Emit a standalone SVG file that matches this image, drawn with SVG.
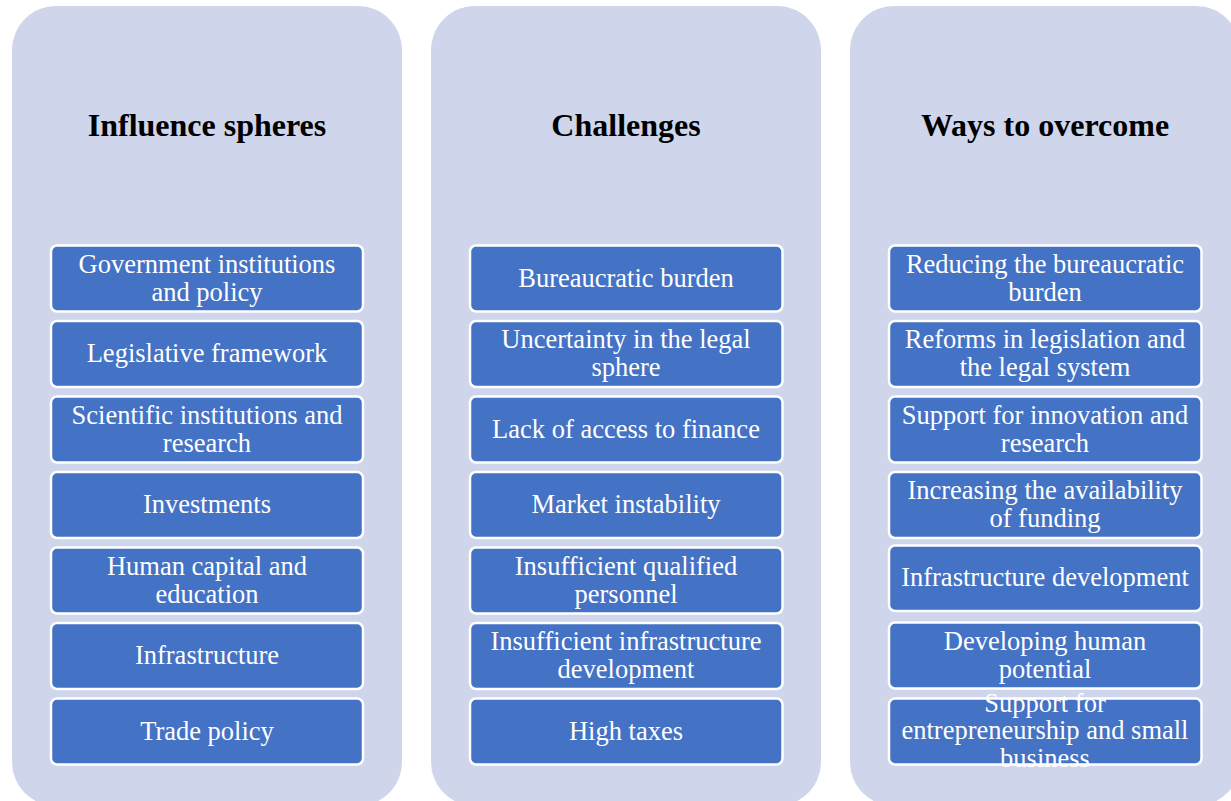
<svg xmlns="http://www.w3.org/2000/svg" width="1231" height="801" viewBox="0 0 1231 801">
<style>
.col{fill:#CFD5EA}
.box{fill:#4472C4;stroke:#FFFFFF;stroke-width:2.5}
.hd{font-family:"Liberation Serif","Times New Roman",serif;font-size:32px;font-weight:bold;fill:#000;text-anchor:middle}
.t{font-family:"Liberation Serif","Times New Roman",serif;font-size:26.5px;fill:#FFFFFF;text-anchor:middle}
</style>
<rect width="1231" height="801" fill="#FFFFFF"/>
<g id="col-influence">
<rect class="col" x="12" y="6" width="390" height="800" rx="44"/>
<text class="hd" x="207" y="136">Influence spheres</text>
</g>
<g id="col-challenges">
<rect class="col" x="431" y="6" width="390" height="800" rx="44"/>
<text class="hd" x="626" y="136">Challenges</text>
</g>
<g id="col-ways">
<rect class="col" x="850" y="6" width="390" height="800" rx="44"/>
<text class="hd" x="1045" y="136">Ways to overcome</text>
</g>
<g id="connectors"></g>
<g id="n-gov"><rect class="box" x="51" y="245.5" width="312" height="66" rx="6"/><text class="t" x="207" y="273">Government institutions</text><text class="t" x="207" y="301">and policy</text></g>
<g id="n-leg"><rect class="box" x="51" y="321" width="312" height="66" rx="6"/><text class="t" x="207" y="362">Legislative framework</text></g>
<g id="n-sci"><rect class="box" x="51" y="396.5" width="312" height="66" rx="6"/><text class="t" x="207" y="424">Scientific institutions and</text><text class="t" x="207" y="452">research</text></g>
<g id="n-inv"><rect class="box" x="51" y="472" width="312" height="66" rx="6"/><text class="t" x="207" y="513">Investments</text></g>
<g id="n-hum"><rect class="box" x="51" y="547.5" width="312" height="66" rx="6"/><text class="t" x="207" y="575">Human capital and</text><text class="t" x="207" y="603">education</text></g>
<g id="n-inf"><rect class="box" x="51" y="623" width="312" height="66" rx="6"/><text class="t" x="207" y="664">Infrastructure</text></g>
<g id="n-trade"><rect class="box" x="51" y="698.5" width="312" height="66" rx="6"/><text class="t" x="207" y="740">Trade policy</text></g>
<g id="c-bur"><rect class="box" x="470" y="245.5" width="312.5" height="66" rx="6"/><text class="t" x="626" y="287">Bureaucratic burden</text></g>
<g id="c-unc"><rect class="box" x="470" y="321" width="312.5" height="66" rx="6"/><text class="t" x="626" y="348">Uncertainty in the legal</text><text class="t" x="626" y="376">sphere</text></g>
<g id="c-fin"><rect class="box" x="470" y="396.5" width="312.5" height="66" rx="6"/><text class="t" x="626" y="438">Lack of access to finance</text></g>
<g id="c-mkt"><rect class="box" x="470" y="472" width="312.5" height="66" rx="6"/><text class="t" x="626" y="513">Market instability</text></g>
<g id="c-pers"><rect class="box" x="470" y="547.5" width="312.5" height="66" rx="6"/><text class="t" x="626" y="575">Insufficient qualified</text><text class="t" x="626" y="603">personnel</text></g>
<g id="c-infra"><rect class="box" x="470" y="623" width="312.5" height="66" rx="6"/><text class="t" x="626" y="650">Insufficient infrastructure</text><text class="t" x="626" y="678">development</text></g>
<g id="c-tax"><rect class="box" x="470" y="698.5" width="312.5" height="66" rx="6"/><text class="t" x="626" y="740">High taxes</text></g>
<g id="w-red"><rect class="box" x="889" y="245.5" width="312.5" height="66" rx="6"/><text class="t" x="1045" y="273">Reducing the bureaucratic</text><text class="t" x="1045" y="301">burden</text></g>
<g id="w-ref"><rect class="box" x="889" y="321" width="312.5" height="66" rx="6"/><text class="t" x="1045" y="348">Reforms in legislation and</text><text class="t" x="1045" y="376">the legal system</text></g>
<g id="w-sup"><rect class="box" x="889" y="396.5" width="312.5" height="66" rx="6"/><text class="t" x="1045" y="424">Support for innovation and</text><text class="t" x="1045" y="452">research</text></g>
<g id="w-fund"><rect class="box" x="889" y="472" width="312.5" height="66" rx="6"/><text class="t" x="1045" y="499">Increasing the availability</text><text class="t" x="1045" y="527">of funding</text></g>
<g id="w-infra"><rect class="box" x="889" y="545.5" width="312.5" height="65.5" rx="6"/><text class="t" x="1045" y="586">Infrastructure development</text></g>
<g id="w-hum"><rect class="box" x="889" y="622.5" width="312.5" height="66" rx="6"/><text class="t" x="1045" y="650">Developing human</text><text class="t" x="1045" y="678">potential</text></g>
<g id="w-ent"><rect class="box" x="889" y="698.5" width="312.5" height="66" rx="6"/><text class="t" x="1045" y="712">Support for</text><text class="t" x="1045" y="739">entrepreneurship and small</text><text class="t" x="1045" y="767">business</text></g>
</svg>
